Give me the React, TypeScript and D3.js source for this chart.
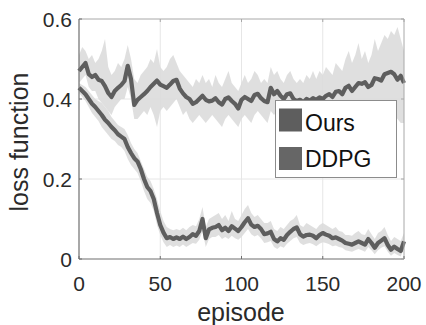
import React from "react";
import * as d3 from "d3";

const episodes = d3.range(0, 201, 2);

const ddpgMean = [
  0.470, 0.480, 0.490, 0.462, 0.455, 0.460, 0.448, 0.445, 0.432, 0.415,
  0.405, 0.420, 0.428, 0.435, 0.445, 0.483, 0.450, 0.385, 0.398, 0.405,
  0.412, 0.420, 0.430, 0.438, 0.446, 0.436, 0.432, 0.428, 0.436, 0.445,
  0.448, 0.426, 0.414, 0.405, 0.400, 0.388, 0.392, 0.400, 0.408, 0.398,
  0.394, 0.396, 0.402, 0.392, 0.386, 0.400, 0.404, 0.395, 0.388, 0.376,
  0.398, 0.405, 0.400, 0.395, 0.410, 0.413, 0.402, 0.395, 0.392, 0.428,
  0.412, 0.420, 0.408, 0.400, 0.412, 0.414, 0.400, 0.395, 0.398, 0.392,
  0.400, 0.396, 0.402, 0.398, 0.404, 0.400, 0.408, 0.412, 0.405, 0.418,
  0.420, 0.412, 0.428, 0.433, 0.420, 0.430, 0.440, 0.438, 0.442, 0.430,
  0.435, 0.452, 0.450, 0.446, 0.462, 0.465, 0.468, 0.462, 0.448, 0.458,
  0.440,
];
const ddpgHigh = [
  0.51, 0.53, 0.52, 0.50, 0.51, 0.49, 0.50, 0.52, 0.55, 0.48,
  0.46, 0.47, 0.49, 0.48, 0.50, 0.535, 0.50, 0.45, 0.44, 0.46,
  0.47, 0.48, 0.50, 0.49, 0.525, 0.48, 0.47, 0.48, 0.50, 0.51,
  0.49, 0.47, 0.46, 0.45, 0.44, 0.43, 0.45, 0.44, 0.46, 0.44,
  0.45, 0.43, 0.46, 0.44, 0.43, 0.45, 0.47, 0.44, 0.43, 0.42,
  0.44, 0.46, 0.44, 0.45, 0.47, 0.46, 0.44, 0.45, 0.44, 0.48,
  0.46, 0.47, 0.45, 0.44, 0.46, 0.47, 0.45, 0.44, 0.45, 0.44,
  0.46, 0.45, 0.47, 0.45, 0.47, 0.46, 0.48, 0.47, 0.46, 0.49,
  0.48, 0.47, 0.50, 0.52, 0.49, 0.51, 0.54, 0.50, 0.52, 0.49,
  0.51, 0.55, 0.52, 0.54, 0.56, 0.55, 0.57, 0.56, 0.58, 0.55,
  0.52,
];
const ddpgLow = [
  0.44, 0.45, 0.46, 0.43, 0.42, 0.42, 0.40, 0.39, 0.38, 0.37,
  0.36, 0.38, 0.39, 0.40, 0.40, 0.43, 0.40, 0.35, 0.35, 0.36,
  0.37, 0.36, 0.38, 0.36, 0.33, 0.37, 0.38, 0.37, 0.38, 0.39,
  0.40, 0.38, 0.36, 0.37, 0.35, 0.34, 0.35, 0.36, 0.35, 0.34,
  0.35, 0.36, 0.35, 0.34, 0.33, 0.35, 0.36, 0.35, 0.34, 0.33,
  0.35, 0.36, 0.35, 0.34, 0.36, 0.37, 0.36, 0.35, 0.34, 0.37,
  0.36, 0.37, 0.36, 0.35, 0.36, 0.37, 0.36, 0.35, 0.36, 0.35,
  0.36, 0.35, 0.36, 0.35, 0.36, 0.36, 0.37, 0.37, 0.36, 0.37,
  0.37, 0.36, 0.37, 0.38, 0.37, 0.37, 0.38, 0.38, 0.38, 0.37,
  0.37, 0.38, 0.38, 0.37, 0.38, 0.38, 0.37, 0.36, 0.35, 0.34,
  0.34,
];

const oursMean = [
  0.428, 0.420, 0.412, 0.400, 0.388, 0.380, 0.370, 0.360, 0.348, 0.340,
  0.330, 0.322, 0.312, 0.306, 0.300, 0.280, 0.265, 0.252, 0.244, 0.225,
  0.200, 0.180, 0.170, 0.150, 0.115, 0.085, 0.066, 0.052, 0.055, 0.050,
  0.054, 0.050, 0.056, 0.050, 0.055, 0.062, 0.058, 0.070, 0.100, 0.052,
  0.074, 0.078, 0.080, 0.085, 0.072, 0.078, 0.070, 0.082, 0.076, 0.070,
  0.080, 0.092, 0.102, 0.086, 0.080, 0.083, 0.075, 0.062, 0.064, 0.068,
  0.050, 0.044, 0.052, 0.048, 0.060, 0.068, 0.075, 0.079, 0.062, 0.056,
  0.060, 0.061, 0.058, 0.052, 0.060, 0.065, 0.061, 0.058, 0.052, 0.054,
  0.050, 0.046, 0.040, 0.038, 0.036, 0.040, 0.044, 0.040, 0.036, 0.050,
  0.040, 0.028, 0.040, 0.046, 0.052, 0.035, 0.023, 0.031, 0.025, 0.020,
  0.044,
];
const oursHigh = [
  0.44, 0.435, 0.43, 0.42, 0.41, 0.40, 0.395, 0.39, 0.38, 0.37,
  0.355, 0.345, 0.335, 0.33, 0.325, 0.31, 0.29, 0.275, 0.265, 0.245,
  0.225, 0.205, 0.195, 0.175, 0.15, 0.12, 0.095, 0.08, 0.075, 0.072,
  0.075, 0.072, 0.078, 0.072, 0.08, 0.085, 0.082, 0.10, 0.13, 0.08,
  0.10, 0.105, 0.11, 0.115, 0.10, 0.11, 0.095, 0.12, 0.10, 0.095,
  0.11, 0.125, 0.135, 0.115, 0.105, 0.11, 0.10, 0.09, 0.09, 0.095,
  0.075, 0.07, 0.08, 0.075, 0.085, 0.095, 0.10, 0.11, 0.085, 0.08,
  0.09, 0.085, 0.08, 0.075, 0.085, 0.09, 0.085, 0.08, 0.075, 0.08,
  0.07, 0.068, 0.06, 0.06, 0.058, 0.065, 0.07, 0.062, 0.06, 0.075,
  0.062, 0.05, 0.065, 0.07, 0.08, 0.06, 0.045, 0.055, 0.05, 0.045,
  0.065,
];
const oursLow = [
  0.415, 0.405, 0.395, 0.38, 0.365, 0.355, 0.345, 0.33, 0.32, 0.31,
  0.30, 0.295, 0.285, 0.28, 0.27, 0.25, 0.235, 0.225, 0.215, 0.195,
  0.17, 0.15, 0.14, 0.12, 0.085, 0.06, 0.042, 0.03, 0.035, 0.03,
  0.034, 0.03, 0.036, 0.03, 0.035, 0.04, 0.038, 0.048, 0.07, 0.03,
  0.05, 0.055, 0.055, 0.06, 0.05, 0.055, 0.05, 0.058, 0.052, 0.048,
  0.055, 0.065, 0.075, 0.062, 0.056, 0.06, 0.052, 0.04, 0.042, 0.045,
  0.03, 0.025, 0.032, 0.028, 0.038, 0.045, 0.052, 0.055, 0.04, 0.035,
  0.038, 0.04, 0.037, 0.032, 0.038, 0.042, 0.04, 0.037, 0.032, 0.034,
  0.03, 0.028, 0.022, 0.02, 0.018, 0.022, 0.025, 0.022, 0.018, 0.03,
  0.022, 0.012, 0.022, 0.028, 0.032, 0.018, 0.008, 0.015, 0.01, 0.006,
  0.026,
];

const xTicks = [0, 50, 100, 150, 200];
const yTicks = [0, 0.2, 0.4, 0.6];
const yTickLabels = ["0", "0.2", "0.4", "0.6"];
const legendLabels = ["Ours", "DDPG"];

const W = 426;
const H = 325;
const left = 79;
const right = 404;
const top = 19;
const bottom = 259;
const FONT = "'Liberation Sans', Arial, Helvetica, sans-serif";

export default function App() {
  const x = d3.scaleLinear().domain([0, 200]).range([left, right]);
  const y = d3.scaleLinear().domain([0, 0.6]).range([bottom, top]);

  const area = (hi: number[], lo: number[]) =>
    d3
      .area<number>()
      .x((d) => x(d))
      .y0((_, i) => y(lo[i]))
      .y1((_, i) => y(hi[i]))(episodes) || "";
  const line = (m: number[]) =>
    d3
      .line<number>()
      .x((d) => x(d))
      .y((_, i) => y(m[i]))(episodes) || "";

  const lineColor = "#5e5e5e";
  const bandColor = "#dcdcdc";

  return (
    <svg
      width={W}
      height={H}
      style={{ position: "absolute", left: 0, top: 0, display: "block", background: "#fff" }}
    >
      <rect x={0} y={0} width={W} height={H} fill="#fff" />
      {xTicks.slice(1, -1).map((t) => (
        <line key={"gx" + t} x1={x(t)} x2={x(t)} y1={top} y2={bottom} stroke="#e6e6e6" strokeWidth={1} />
      ))}
      {yTicks.slice(1, -1).map((t) => (
        <line key={"gy" + t} x1={left} x2={right} y1={y(t)} y2={y(t)} stroke="#e6e6e6" strokeWidth={1} />
      ))}
      <path d={area(ddpgHigh, ddpgLow)} fill={bandColor} opacity={0.9} />
      <path d={area(oursHigh, oursLow)} fill={bandColor} opacity={0.9} />
      <path d={line(ddpgMean)} fill="none" stroke={lineColor} strokeWidth={4.2} strokeLinejoin="round" />
      <path d={line(oursMean)} fill="none" stroke={lineColor} strokeWidth={4.2} strokeLinejoin="round" />
      <line x1={left} x2={right} y1={top} y2={top} stroke="#a8a8a8" strokeWidth={1} />
      <line x1={right} x2={right} y1={top} y2={bottom} stroke="#a8a8a8" strokeWidth={1} />
      <line x1={left} x2={left} y1={top} y2={bottom} stroke="#6e6e6e" strokeWidth={1.2} />
      <line x1={left} x2={right} y1={bottom} y2={bottom} stroke="#6e6e6e" strokeWidth={1.2} />
      {xTicks.map((t) => (
        <g key={"xt" + t}>
          <line x1={x(t)} x2={x(t)} y1={bottom} y2={bottom - 3} stroke="#6e6e6e" />
          <line x1={x(t)} x2={x(t)} y1={top} y2={top + 3} stroke="#a8a8a8" />
          <text x={x(t)} y={291} textAnchor="middle" fontFamily={FONT} fontSize={21} fill="#2a2a2a">
            {t}
          </text>
        </g>
      ))}
      {yTicks.map((t, i) => (
        <g key={"yt" + t}>
          <line x1={left} x2={left + 3} y1={y(t)} y2={y(t)} stroke="#6e6e6e" />
          <line x1={right} x2={right - 3} y1={y(t)} y2={y(t)} stroke="#a8a8a8" />
          <text x={72} y={y(t) + 7.5} textAnchor="end" fontFamily={FONT} fontSize={21} fill="#2a2a2a">
            {yTickLabels[i]}
          </text>
        </g>
      ))}
      <text x={241} y={321} textAnchor="middle" fontFamily={FONT} fontSize={25} fill="#2a2a2a">
        episode
      </text>
      <text
        transform={`translate(28,142) rotate(-90)`}
        textAnchor="middle"
        fontFamily={FONT}
        fontSize={25}
        fill="#2a2a2a"
      >
        loss function
      </text>
      <rect x={275.5} y={100.5} width={121} height={77} fill="#fff" stroke="#8c8c8c" strokeWidth={1} />
      {legendLabels.map((lab, i) => (
        <g key={lab}>
          <rect x={279} y={108.5 + i * 38.5} width={23} height={23} fill={i === 0 ? "#5e5e5e" : "#666666"} />
          <text x={305} y={130.5 + i * 36.5} fontFamily={FONT} fontSize={23} fill="#111">
            {lab}
          </text>
        </g>
      ))}
    </svg>
  );
}
